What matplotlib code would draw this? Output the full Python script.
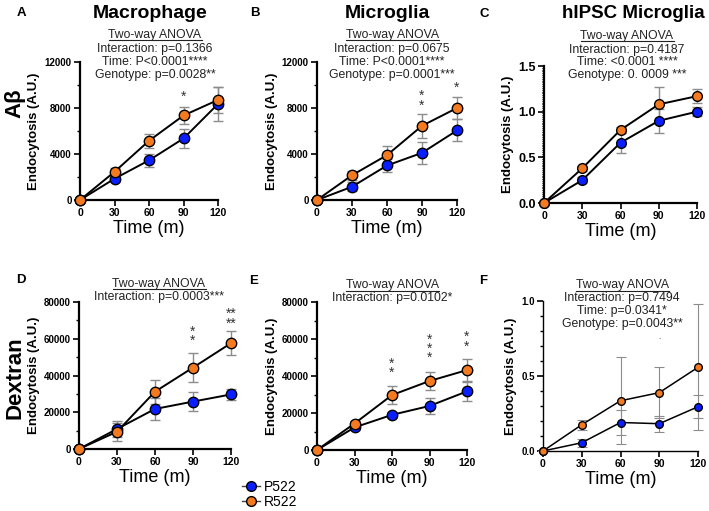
import numpy as np
import matplotlib
matplotlib.use("Agg")
import matplotlib.pyplot as plt
from matplotlib.lines import Line2D
from matplotlib.ticker import MultipleLocator, FormatStrFormatter

plt.rcParams['font.family'] = ['Liberation Sans', 'DejaVu Sans']

W, H = 709, 511

# data
time = [0, 30, 60, 90, 120]

macro_ab_p = [0, 1850, 3450, 5350, 8350]
macro_ab_p_err = [0, 300, 550, 800, 1500]
macro_ab_r = [0, 2450, 5150, 7350, 8700]
macro_ab_r_err = [0, 350, 600, 750, 1100]

micro_ab_p = [0, 1150, 3000, 4100, 6050]
micro_ab_p_err = [0, 400, 550, 950, 950]
micro_ab_r = [0, 2150, 3900, 6450, 8000]
micro_ab_r_err = [0, 400, 800, 1050, 950]

ipsc_ab_p = [0, 0.25, 0.66, 0.90, 1.00]
ipsc_ab_p_err = [0, 0.03, 0.11, 0.13, 0.05]
ipsc_ab_r = [0, 0.38, 0.80, 1.08, 1.17]
ipsc_ab_r_err = [0, 0.03, 0.03, 0.19, 0.08]

macro_dex_p = [0, 10900, 21800, 25800, 29700]
macro_dex_p_err = [0, 4500, 5800, 5000, 3200]
macro_dex_r = [0, 9400, 31200, 44300, 57600]
macro_dex_r_err = [0, 5000, 6500, 8000, 6500]

micro_dex_p = [0, 12200, 19000, 23800, 31700]
micro_dex_p_err = [0, 1500, 1500, 4200, 5000]
micro_dex_r = [0, 14300, 29700, 37300, 43200]
micro_dex_r_err = [0, 1500, 4800, 4800, 5800]

ipsc_dex_p = [0, 0.055, 0.19, 0.182, 0.295]
ipsc_dex_p_err = [0, 0.025, 0.083, 0.053, 0.077]
ipsc_dex_r = [0, 0.175, 0.335, 0.389, 0.558]
ipsc_dex_r_err = [0, 0.035, 0.29, 0.17, 0.42]

blue = '#0a1fff'
orange = '#f47a20'

fig = plt.figure(figsize=(W / 100, H / 100), dpi=100)


def make_ax(left, right, top, bottom):
    return fig.add_axes([left / W, 1 - bottom / H, (right - left) / W, (bottom - top) / H])


def draw(ax, p, pe, r, re, ymax, major, minor, ms=7.5, lw_spine=1.6, ytick_fs=7,
         lw=1.4, elw=1):
    for y, e, c in [(p, pe, blue), (r, re, orange)]:
        ax.errorbar(time, y, yerr=e, fmt='none', ecolor='#8c8c8c', elinewidth=elw,
                    capsize=3.5, capthick=elw, zorder=2, clip_on=False)
        ax.plot(time, y, '-o', color='black', lw=lw, mfc=c, mec='black', mew=1,
                ms=ms, zorder=3, clip_on=False)
    ax.set_xlim(0, 120)
    ax.set_ylim(0, ymax)
    ax.set_xticks(time)
    ax.yaxis.set_major_locator(MultipleLocator(major))
    ax.yaxis.set_minor_locator(MultipleLocator(minor))
    for s in ['top', 'right']:
        ax.spines[s].set_visible(False)
    for s in ['left', 'bottom']:
        ax.spines[s].set_linewidth(lw_spine)
    ax.tick_params(axis='both', which='major', length=4, width=1.2, pad=2)
    ax.tick_params(axis='y', which='minor', length=2.5, width=1)
    for lab in ax.get_xticklabels():
        lab.set_fontweight('bold')
        lab.set_fontsize(7.5)
    for lab in ax.get_yticklabels():
        lab.set_fontweight('bold')
        lab.set_fontsize(ytick_fs)
    ax.set_xlabel('Time (m)', fontsize=13, labelpad=1)
    ax.set_ylabel('Endocytosis (A.U.)', fontsize=9.5, fontweight='bold', labelpad=3)


axA = make_ax(80, 218, 62, 200)
draw(axA, macro_ab_p, macro_ab_p_err, macro_ab_r, macro_ab_r_err, 12000, 4000, 2000)
axB = make_ax(317, 457, 62, 200)
draw(axB, micro_ab_p, micro_ab_p_err, micro_ab_r, micro_ab_r_err, 12000, 4000, 2000)
axC = make_ax(544, 697, 66, 203)
draw(axC, ipsc_ab_p, ipsc_ab_p_err, ipsc_ab_r, ipsc_ab_r_err, 1.5, 0.5, 0.02, ms=7, ytick_fs=9)
axC.tick_params(axis='y', which='minor', length=1.5, width=0.8)
axC.yaxis.set_major_formatter(FormatStrFormatter('%.1f'))
axD = make_ax(79, 231, 302, 449)
draw(axD, macro_dex_p, macro_dex_p_err, macro_dex_r, macro_dex_r_err, 80000, 20000, 10000)
axE = make_ax(317, 467, 302, 450)
draw(axE, micro_dex_p, micro_dex_p_err, micro_dex_r, micro_dex_r_err, 80000, 20000, 10000)
axF = make_ax(543, 698, 301, 451)
draw(axF, ipsc_dex_p, ipsc_dex_p_err, ipsc_dex_r, ipsc_dex_r_err, 1.0, 0.5, 0.1,
     ms=5.5, lw_spine=1.0, lw=1.1, elw=0.8)
axF.yaxis.set_major_formatter(FormatStrFormatter('%.1f'))

# significance stars
star_kw = dict(ha='center', va='center', fontsize=10, color='#333333', linespacing=0.6)
axA.text(90, 9000, '*', **star_kw)
axB.text(90, 8650, '*\n*', **star_kw)
axB.text(120, 9750, '*', **star_kw)
axD.text(90, 61400, '*\n*', **star_kw)
axD.text(120, 70800, '**\n**', **star_kw)
axE.text(60, 44200, '*\n*', **star_kw)
axE.text(90, 54500, '*\n*\n*', **dict(star_kw, linespacing=0.55))
axE.text(120, 58500, '*\n*', **star_kw)
axF.text(90, 0.76, '.', ha='center', va='center', fontsize=6, color='#333333')


def ptext(x, y, s, **kw):
    return fig.text(x / W, 1 - y / H, s, **kw)


# panel titles and letters
ptext(150, 13, 'Macrophage', fontsize=14, fontweight='bold', ha='center', va='center')
ptext(387, 13, 'Microglia', fontsize=14, fontweight='bold', ha='center', va='center')
ptext(633, 13, 'hIPSC Microglia', fontsize=13.5, fontweight='bold', ha='center', va='center')
for x, y, s in [(21, 13, 'A'), (255, 13, 'B'), (484, 14, 'C'),
                (21, 280, 'D'), (254, 281, 'E'), (483, 281, 'F')]:
    ptext(x, y, s, fontsize=9.5, fontweight='bold', ha='center', va='center')

ptext(15, 103, 'Aβ', fontsize=16, fontweight='bold', ha='center', va='center', rotation=90)
ptext(15, 378, 'Dextran', fontsize=16, fontweight='bold', ha='center', va='center', rotation=90)

# ANOVA boxes
anova = [
    (155, [35, 49, 62, 75], ['Interaction: p=0.1366', 'Time: P<0.0001****', 'Genotype: p=0.0028**']),
    (392, [35, 49, 62, 75], ['Interaction: p=0.0675', 'Time: P<0.0001****', 'Genotype: p=0.0001***']),
    (627, [36, 50, 62, 75], ['Interaction: p=0.4187', 'Time: <0.0001 ****', 'Genotype: 0. 0009 ***']),
    (159, [284, 297], ['Interaction: p=0.0003***']),
    (392, [285, 298], ['Interaction: p=0.0102*']),
    (622, [285, 298, 311, 324], ['Interaction: p=0.7494', 'Time: p=0.0341*', 'Genotype: p=0.0043**']),
]
heads = []
for x, ys, lines in anova:
    heads.append(ptext(x, ys[0], 'Two-way ANOVA', fontsize=8.8, ha='center', va='center', color='#222222'))
    for yy, s in zip(ys[1:], lines):
        ptext(x, yy, s, fontsize=8.8, ha='center', va='center', color='#222222')

fig.canvas.draw()
rend = fig.canvas.get_renderer()
for t in heads:
    bb = t.get_window_extent(rend)
    yline = bb.y0 + 0.5
    fig.add_artist(Line2D([bb.x0 / W, bb.x1 / W], [yline / H, yline / H],
                          color='#222222', lw=0.8, transform=fig.transFigure))

# legend
hP = Line2D([], [], color='#444444', lw=1, marker='o', mfc=blue, mec='black', ms=7)
hR = Line2D([], [], color='#444444', lw=1, marker='o', mfc=orange, mec='black', ms=7)
fig.legend([hP, hR], ['P522', 'R522'], loc='upper left', bbox_to_anchor=(242 / W, 1 - 480 / H),
           frameon=False, fontsize=10, handlelength=1.3, handletextpad=0.3,
           labelspacing=0.05, borderpad=0, borderaxespad=0)

fig.savefig('out.png', dpi=100)
